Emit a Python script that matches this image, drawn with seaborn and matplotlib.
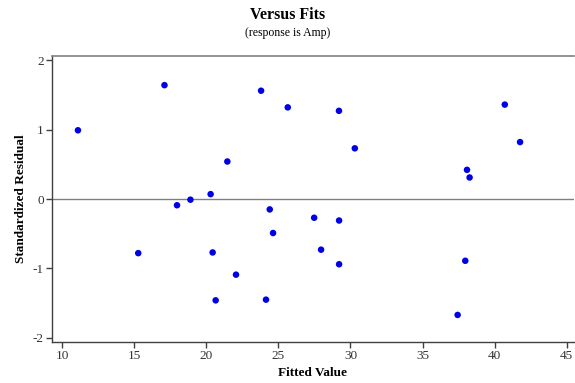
import matplotlib
matplotlib.use("Agg")
import matplotlib.pyplot as plt
import seaborn as sns
import pandas as pd

fitted = [11.1, 17.1, 23.8, 25.65, 21.46, 20.3, 18.9, 17.97, 24.4,
          29.2, 30.3, 40.7, 41.76, 38.08, 38.26,
          15.28, 24.63, 20.44, 22.06, 20.65, 24.14,
          27.48, 29.21, 27.96, 29.21, 37.96, 37.43]
resid = [0.99, 1.64, 1.56, 1.32, 0.54, 0.07, -0.01, -0.09, -0.15,
         1.27, 0.73, 1.36, 0.82, 0.42, 0.31,
         -0.78, -0.49, -0.77, -1.09, -1.46, -1.45,
         -0.27, -0.31, -0.73, -0.94, -0.89, -1.67]
x_ticks = [10, 15, 20, 25, 30, 35, 40, 45]
y_ticks = [-2, -1, 0, 1, 2]

df = pd.DataFrame({"Fitted Value": fitted, "Standardized Residual": resid})

sns.set_theme(style="white")
plt.rcParams['font.family'] = ['Liberation Serif', 'DejaVu Serif']
plt.rcParams['axes.unicode_minus'] = False

fig = plt.figure(figsize=(5.75, 3.83), dpi=100)
ax = fig.add_axes([52/575, 1 - 342/383, (574-52)/575, (342-56)/383])

ax.axhline(0, color="#808080", lw=1.0, zorder=1)
sns.scatterplot(data=df, x="Fitted Value", y="Standardized Residual", ax=ax,
                color="#0000E6", s=22, edgecolor="none", zorder=3)

ax.set_xlim(9.3, 45.5)
ax.set_ylim(-2.06, 2.06)
ax.set_xticks(x_ticks)
ax.set_yticks(y_ticks)
ax.tick_params(axis="both", which="both", direction="out", length=4, width=1,
               color="#404040", labelsize=9.5, labelcolor="#333333",
               bottom=True, left=True, pad=2)

for side in ["left", "bottom"]:
    ax.spines[side].set_color("#404040")
    ax.spines[side].set_linewidth(1.0)
ax.spines["top"].set_color("#808080")
ax.spines["top"].set_linewidth(1.2)
ax.spines["right"].set_visible(False)

ax.set_xlabel("Fitted Value", fontsize=9.5, fontweight="bold", labelpad=3,
              color="black")
ax.set_ylabel("Standardized Residual", fontsize=9.5, fontweight="bold",
              labelpad=4, color="black")

fig.text(0.5, 1 - 15/383, "Versus Fits", ha="center", va="center",
         fontsize=11.5, fontweight="bold", color="black")
fig.text(0.5, 1 - 33/383, "(response is Amp)", ha="center", va="center",
         fontsize=8.5, color="black")

fig.savefig("out.png", dpi=100)
